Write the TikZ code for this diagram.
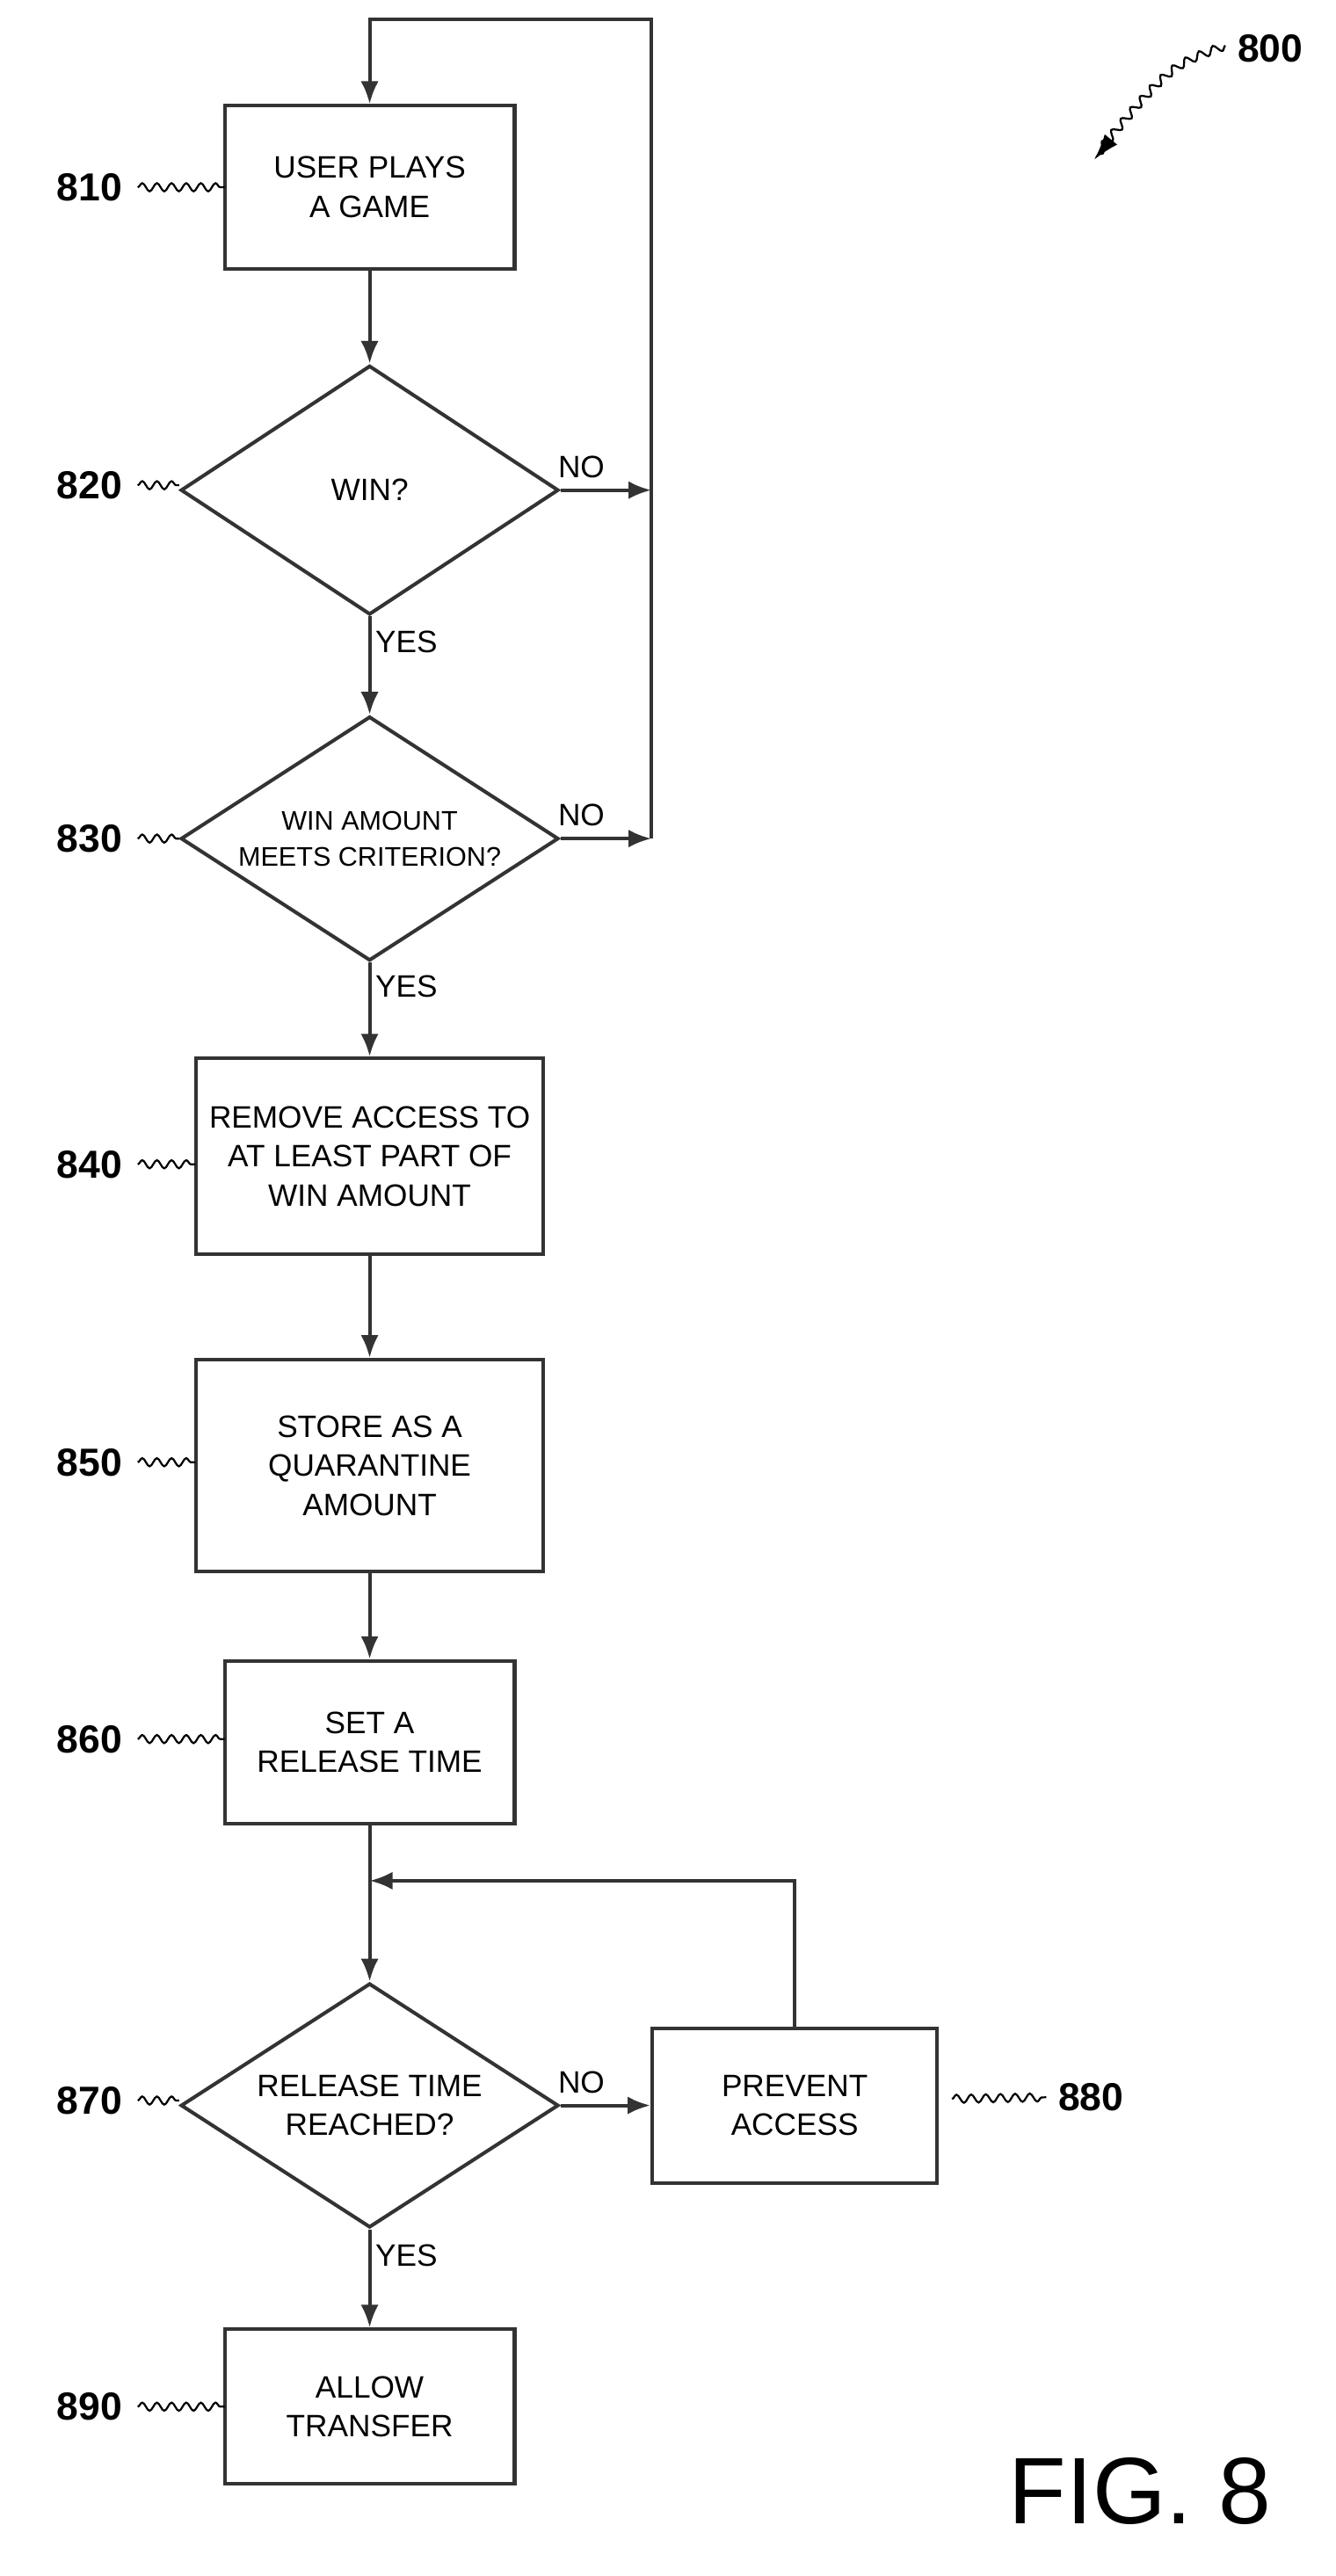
\documentclass[tikz,border=0pt]{standalone}
\usepackage{fontspec}
\setmainfont{Liberation Sans}
\usetikzlibrary{positioning, shapes.geometric, arrows.meta, decorations.pathmorphing}

\tikzset{
  flow/.style={line width=2.2pt, draw=black!80},
  box/.style={flow, rectangle, align=center, font=\fontsize{19}{24}\selectfont, inner sep=2pt},
  dec/.style={flow, diamond, align=center, font=\fontsize{19}{24}\selectfont, inner sep=-30pt},
  arr/.style={flow, -{Latex[length=14pt,width=11pt]}},
  ref/.style={font=\fontsize{24}{28}\selectfont\bfseries},
  squig/.style={line width=1.2pt, decorate, decoration={snake, amplitude=2.5pt, segment length=9pt}},
  yn/.style={font=\fontsize{19}{22}\selectfont}
}

\begin{document}
\begin{tikzpicture}[x=1pt, y=-1pt]
\useasboundingbox (0,0) rectangle (820,1582);

% steps of the flow
\node[box, minimum width=178pt, minimum height=100pt] (b810) at (227,115) {USER PLAYS\\A GAME};
\node[dec, minimum width=232pt, minimum height=153pt] (d820) at (227,301) {WIN?};
\node[dec, minimum width=232pt, minimum height=150pt, font=\fontsize{16.5}{22}\selectfont] (d830) at (227,515) {WIN AMOUNT\\MEETS CRITERION?};
\node[box, minimum width=213pt, minimum height=120pt] (b840) at (227,710) {REMOVE ACCESS TO\\AT LEAST PART OF\\WIN AMOUNT};
\node[box, minimum width=213pt, minimum height=130pt] (b850) at (227,900) {STORE AS A\\QUARANTINE\\AMOUNT};
\node[box, minimum width=178pt, minimum height=100pt] (b860) at (227,1070) {SET A\\RELEASE TIME};
\node[dec, minimum width=232pt, minimum height=150pt] (d870) at (227,1293) {RELEASE TIME\\REACHED?};
\node[box, minimum width=175pt, minimum height=95pt] (b880) at (488,1293) {PREVENT\\ACCESS};
\node[box, minimum width=178pt, minimum height=95pt] (b890) at (227,1478) {ALLOW\\TRANSFER};

% joints
\coordinate (j820) at (400,301);
\coordinate (j830) at (400,515);
\coordinate (jtop) at (400,12);
\coordinate (j860) at (227,1155);

% connectors
\draw[arr] (b810) -- (d820);
\draw[arr] (d820) -- (d830);
\draw[arr] (d830) -- (b840);
\draw[arr] (b840) -- (b850);
\draw[arr] (b850) -- (b860);
\draw[flow] (b860.south) -- (j860);
\draw[arr] (j860) -- (d870);
\draw[arr] (d870) -- (b890);
\draw[arr] (d870.east) -- (b880.west);
\draw[arr] (b880.north) |- (j860);
\draw[arr] (d820.east) -- (j820);
\draw[arr] (d830.east) -- (j830);
\draw[arr] (j830) -- (jtop) -| (b810.north);

% yes / no
\node[yn, anchor=south] at (357,297) {NO};
\node[yn, anchor=south] at (357,511) {NO};
\node[yn, anchor=south] at (357,1289) {NO};
\node[yn, anchor=west] at (227,394) {YES};
\node[yn, anchor=west] at (227,606) {YES};
\node[yn, anchor=west] at (227,1385) {YES};

% reference numerals
\foreach \n/\y/\e in {810/115/138, 820/298/110, 830/515/110, 840/715/120, 850/898/120, 860/1068/138, 870/1290/110, 890/1478/138}
  {\node[ref] (r\n) at (55,\y) {\n};
   \draw[squig] (r\n.east) ++(6,0) -- (\e,\y);}
\node[ref] (r880) at (670,1288) {880};
\draw[squig] (b880.east) ++(8,-4) -- ([xshift=-4pt]r880.west);
\node[ref] (r800) at (780,30) {800};
\draw[squig, -{Latex[length=16pt,width=10pt]}] ([xshift=-4pt,yshift=2pt]r800.west) .. controls (720,40) .. (672,98);

\node[font=\fontsize{58}{60}\selectfont] (fig) at (700,1530) {FIG. 8};
\end{tikzpicture}
\end{document}
